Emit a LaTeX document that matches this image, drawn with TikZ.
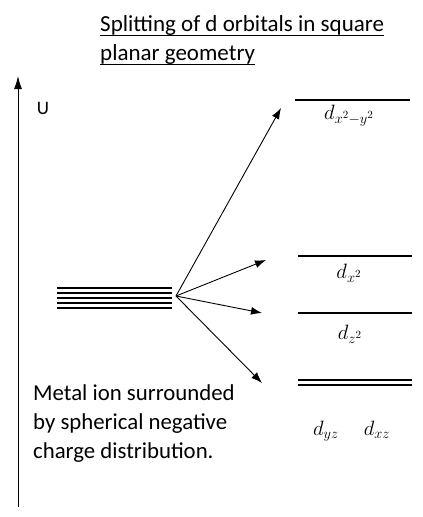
\documentclass[tikz,border=0pt]{standalone}
\usepackage{amsmath}
\usepackage{fontspec}
\setmainfont{Carlito}
\usetikzlibrary{positioning,arrows.meta}

\begin{document}
\begin{tikzpicture}[x=1pt,y=-1pt]
          \tikzstyle{level} = [line width=1.2pt]
          \tikzstyle{split} = [line width=0.9pt, -{Latex[length=11pt,width=8pt]}]
          \tikzstyle{orb} = [font=\fontsize{22}{26}\selectfont, inner sep=0pt, anchor=base]
          \tikzstyle{head} = [font=\fontsize{23}{29}\selectfont, inner sep=0pt, anchor=base west]
          \tikzstyle{txt} = [font=\fontsize{22.8}{29}\selectfont, inner sep=0pt, anchor=base west]
        \useasboundingbox (0,0) rectangle (423,517);
        % title
        \node[head] (t1) at (100,31) {Splitting of d orbitals in square};
        \node[head] (t2) at (100,60) {planar geometry};
        \draw[line width=1.2pt] ([yshift=-4.5pt]t1.base west) -- ([yshift=-4.5pt]t1.base east);
        \draw[line width=1.2pt] ([yshift=-4.5pt]t2.base west) -- ([yshift=-4.5pt]t2.base east);
        % energy axis
        \coordinate (ubot) at (18,507);
        \coordinate (utop) at (18,76);
        \draw[line width=1pt, -{Latex[length=13pt,width=8pt]}] (ubot) -- (utop);
        \node[font=\fontsize{19}{23}\selectfont, inner sep=0pt] (u) at (43,108) {U};
        % free ion, five degenerate d orbitals
        \foreach \i/\y in {1/288,2/293,3/298,4/303,5/308} {
          \coordinate (l\i) at (57,\y);
          \coordinate (r\i) at (172,\y);
          \draw[level] (l\i) -- (r\i);
        }
        \coordinate (s) at (176,296);
        % split levels
        \coordinate (a1) at (295,100); \coordinate (a2) at (410,100);
        \coordinate (b1) at (298,256); \coordinate (b2) at (412,256);
        \coordinate (c1) at (298,313); \coordinate (c2) at (412,313);
        \coordinate (d1) at (298,380); \coordinate (d2) at (412,380);
        \coordinate (e1) at (298,385); \coordinate (e2) at (412,385);
        \draw[level] (a1) -- (a2);
        \draw[level] (b1) -- (b2);
        \draw[level] (c1) -- (c2);
        \draw[level] (d1) -- (d2);
        \draw[level] (e1) -- (e2);
        \node[orb] (dx2y2) at (349,119) {$d_{x^2-y^2}$};
        \node[orb] (dx2) at (349,278) {$d_{x^2}$};
        \node[orb] (dz2) at (350,339) {$d_{z^2}$};
        \node[orb] (dyz) at (326,435) {$d_{yz}$};
        \node[orb] (dxz) at (377,435) {$d_{xz}$};
        % splitting arrows
        \coordinate (ta) at (281,108);
        \coordinate (tb) at (266,260);
        \coordinate (tc) at (262,313);
        \coordinate (td) at (262,383);
        \draw[split] (s) -- (ta);
        \draw[split] (s) -- (tb);
        \draw[split] (s) -- (tc);
        \draw[split] (s) -- (td);
        \node[txt] (ion1) at (33,400) {Metal ion surrounded};
        \node[txt] (ion2) at (33,429) {by spherical negative};
        \node[txt] (ion3) at (33,458) {charge distribution.};
      \end{tikzpicture}
\end{document}
